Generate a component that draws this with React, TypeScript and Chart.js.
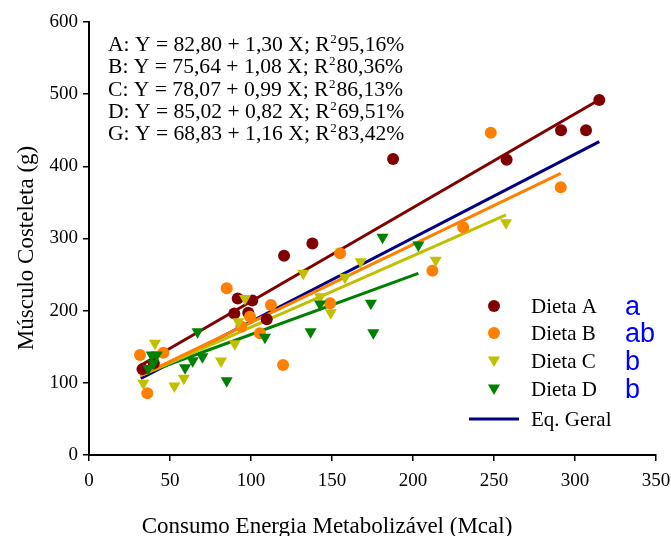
import { useEffect, useRef } from "react";
import { Chart, registerables } from "chart.js";

Chart.register(...registerables);

// ---- Data ----
const dietaA_x = [33, 40, 89.7, 91.8, 98.3, 100.8, 109.7, 120.4, 137.9, 187.7, 257.8, 291.4, 306.8, 315];
const dietaA_y = [119, 127, 196, 217, 197, 214, 188, 276, 293, 410, 409, 450, 450, 492];

const dietaB_x = [31.5, 36, 45.9, 85, 94, 99.4, 105.5, 112.3, 119.8, 148.8, 155, 212, 231, 248, 291.2];
const dietaB_y = [138.6, 85.5, 141.7, 231, 178, 191.6, 168.6, 207.8, 124.7, 210.2, 279.5, 255.4, 315.5, 446.6, 371];

const dietaC_x = [33.5, 40.7, 52.7, 58.5, 81.5, 90, 92.2, 96.3, 132.3, 142.6, 149.2, 158, 167.7, 214, 257.4];
const dietaC_y = [99.3, 154.8, 95.6, 106.3, 130.2, 154, 184.7, 217, 252, 219.3, 197.2, 246.2, 267.8, 270, 321.9];

const dietaD_x = [36.6, 38.7, 39.7, 41.8, 59.3, 64, 67, 70, 85, 108.6, 136.8, 142.6, 174, 175.5, 181.2, 203.3];
const dietaD_y = [120, 138.6, 127, 138.6, 121, 130.7, 170.8, 136.2, 103, 163, 170.8, 209.2, 210.2, 169.5, 301.6, 291];

// Regression equations shown on the chart (A, B, C, D, G)
const eqNames = ["A", "B", "C", "D", "G"];
const eqIntercepts = [82.8, 75.64, 78.07, 85.02, 68.83];
const eqSlopes = [1.3, 1.08, 0.99, 0.82, 1.16];
const eqXStart = [32, 31.5, 33.5, 36.6, 32];
const eqXEnd = [315, 291.2, 257.4, 203.3, 315];
const eqInterceptText = ["82,80", "75,64", "78,07", "85,02", "68,83"];
const eqSlopeText = ["1,30", "1,08", "0,99", "0,82", "1,16"];
const eqR2Text = ["95,16%", "80,36%", "86,13%", "69,51%", "83,42%"];

const legendLabels = ["Dieta A", "Dieta B", "Dieta C", "Dieta D", "Eq. Geral"];
const groupLetters = ["a", "ab", "b", "b"];

const xTickStep = 50;
const yTickStep = 100;

const xTitle = "Consumo Energia Metabolizável (Mcal)";
const yTitle = "Músculo Costeleta (g)";

const colors = ["#800000", "#FF8000", "#C0C000", "#008000", "#000080"];
const pointStyles = ["circle", "circle", "triangle", "triangle"];

const SERIF = "'Liberation Serif', 'Times New Roman', serif";

function toPoints(xs: number[], ys: number[]) {
  return xs.map((x, i) => ({ x, y: ys[i] }));
}

export default function App() {
  const ref = useRef<HTMLCanvasElement | null>(null);

  useEffect(() => {
    const canvas = ref.current;
    if (!canvas) return;

    const groups = [
      toPoints(dietaA_x, dietaA_y),
      toPoints(dietaB_x, dietaB_y),
      toPoints(dietaC_x, dietaC_y),
      toPoints(dietaD_x, dietaD_y),
    ];

    const pointDatasets = groups.map((data, i) => ({
      type: "scatter" as const,
      label: legendLabels[i],
      data,
      pointStyle: pointStyles[i],
      rotation: pointStyles[i] === "triangle" ? 180 : 0,
      pointRadius: pointStyles[i] === "triangle" ? 7 : 6,
      backgroundColor: colors[i],
      borderColor: colors[i],
      borderWidth: 0,
      showLine: false,
      order: 4 - i,
    }));

    const lineDatasets = eqNames.map((n, i) => ({
      type: "line" as const,
      label: "Eq " + n,
      data: [
        { x: eqXStart[i], y: eqIntercepts[i] + eqSlopes[i] * eqXStart[i] },
        { x: eqXEnd[i], y: eqIntercepts[i] + eqSlopes[i] * eqXEnd[i] },
      ],
      borderColor: colors[i],
      borderWidth: 3,
      pointRadius: 0,
      fill: false,
      order: 10 + i,
    }));

    const overlay = {
      id: "overlay",
      afterDraw(chart: any) {
        const ctx = chart.ctx as CanvasRenderingContext2D;
        ctx.save();
        ctx.fillStyle = "#000";
        // Equations
        const eqX = 108;
        const eqY0 = 51;
        const eqDy = 22.3;
        for (let i = 0; i < eqNames.length; i++) {
          const y = eqY0 + i * eqDy;
          ctx.font = `21.6px ${SERIF}`;
          ctx.textAlign = "left";
          ctx.textBaseline = "alphabetic";
          const t1 = `${eqNames[i]}: Y = ${eqInterceptText[i]} + ${eqSlopeText[i]} X; R`;
          ctx.fillText(t1, eqX, y);
          const w = ctx.measureText(t1).width;
          ctx.font = `13px ${SERIF}`;
          ctx.fillText("2", eqX + w + 0.5, y - 8);
          const w2 = ctx.measureText("2").width;
          ctx.font = `21.6px ${SERIF}`;
          ctx.fillText(eqR2Text[i], eqX + w + w2 + 1.5, y);
        }

        // Legend
        const lx = 494;
        const tx = 531;
        const rows = [306, 333, 361, 389, 419];
        for (let i = 0; i < 4; i++) {
          ctx.fillStyle = colors[i];
          if (pointStyles[i] === "circle") {
            ctx.beginPath();
            ctx.arc(lx, rows[i], 6, 0, Math.PI * 2);
            ctx.fill();
          } else {
            const r = 7;
            const cy = rows[i] - 1;
            ctx.beginPath();
            ctx.moveTo(lx, cy + r);
            ctx.lineTo(lx - r * Math.sin(Math.PI / 3), cy - r / 2);
            ctx.lineTo(lx + r * Math.sin(Math.PI / 3), cy - r / 2);
            ctx.closePath();
            ctx.fill();
          }
        }
        ctx.strokeStyle = colors[4];
        ctx.lineWidth = 3;
        ctx.beginPath();
        ctx.moveTo(469, rows[4]);
        ctx.lineTo(519, rows[4]);
        ctx.stroke();

        ctx.fillStyle = "#000";
        ctx.font = `21px ${SERIF}`;
        ctx.textAlign = "left";
        ctx.textBaseline = "middle";
        for (let i = 0; i < legendLabels.length; i++) {
          ctx.fillText(legendLabels[i], tx, rows[i] + 1);
        }

        ctx.fillStyle = "#0000FF";
        ctx.font = `27px 'Liberation Sans', Arial, sans-serif`;
        ctx.textBaseline = "alphabetic";
        for (let i = 0; i < groupLetters.length; i++) {
          ctx.fillText(groupLetters[i], 625, rows[i] + 9);
        }

        // Axis titles
        ctx.fillStyle = "#000";
        ctx.font = `23px ${SERIF}`;
        ctx.textAlign = "center";
        ctx.textBaseline = "alphabetic";
        ctx.fillText(xTitle, 327, 533);

        ctx.save();
        ctx.translate(27, 248);
        ctx.rotate(-Math.PI / 2);
        ctx.textBaseline = "middle";
        ctx.fillText(yTitle, 0, 0);
        ctx.restore();

        ctx.restore();
      },
    };

    const chart = new Chart(canvas, {
      type: "scatter",
      data: { datasets: [...pointDatasets, ...lineDatasets] as any },
      options: {
        responsive: false,
        animation: false,
        events: [],
        layout: { padding: { top: 22, right: 15, left: 0, bottom: 0 } },
        plugins: {
          legend: { display: false },
          tooltip: { enabled: false },
        },
        scales: {
          x: {
            type: "linear",
            min: 0,
            max: 350,
            ticks: {
              stepSize: xTickStep,
              color: "#000",
              padding: 9,
              font: { family: SERIF, size: 19 },
            },
            grid: {
              display: true,
              drawOnChartArea: false,
              drawTicks: true,
              tickLength: 6,
              color: "#000",
              lineWidth: 1.5,
            },
            border: { display: true, color: "#000", width: 2 },
            afterFit(scale: any) {
              scale.height = 81;
              scale.paddingLeft = 0;
              scale.paddingRight = 0;
            },
          },
          y: {
            type: "linear",
            min: 0,
            max: 600,
            ticks: {
              stepSize: yTickStep,
              color: "#000",
              padding: 5,
              font: { family: SERIF, size: 19 },
            },
            grid: {
              display: true,
              drawOnChartArea: false,
              drawTicks: true,
              tickLength: 6,
              color: "#000",
              lineWidth: 1.5,
            },
            border: { display: true, color: "#000", width: 2 },
            afterFit(scale: any) {
              scale.width = 89;
              scale.paddingTop = 0;
              scale.paddingBottom = 0;
            },
          },
        },
      },
      plugins: [overlay],
    });

    return () => chart.destroy();
  }, []);

  return (
    <div style={{ position: "fixed", left: 0, top: 0, width: 671, height: 536, background: "#fff" }}>
      <canvas ref={ref} width={671} height={536} style={{ display: "block" }} />
    </div>
  );
}
